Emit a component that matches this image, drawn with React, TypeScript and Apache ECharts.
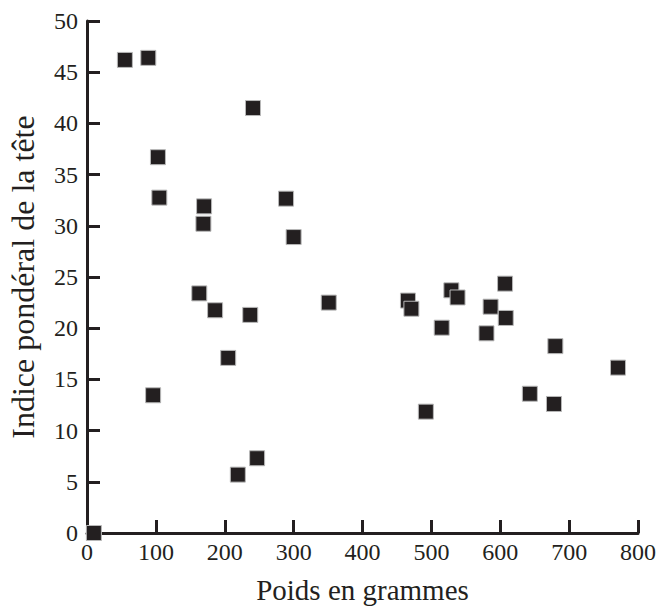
import React, { useEffect, useRef } from "react";
import * as echarts from "echarts";

const weights = [55, 89, 241, 103, 105, 170, 169, 289, 300, 163, 186, 237, 205, 96, 219, 247, 10, 351, 466, 471, 529, 538, 607, 586, 608, 515, 580, 680, 771, 643, 678, 492];
const indices = [46.2, 46.4, 41.5, 36.7, 32.75, 31.9, 30.2, 32.65, 28.9, 23.4, 21.75, 21.3, 17.1, 13.45, 5.7, 7.3, 0, 22.5, 22.7, 21.9, 23.7, 23.0, 24.35, 22.1, 21.0, 20.05, 19.5, 18.25, 16.15, 13.6, 12.6, 11.85];

const xTitle = "Poids en grammes";
const yTitle = "Indice pondéral de la tête";

export default function App() {
  const ref = useRef<HTMLDivElement>(null);
  useEffect(() => {
    if (!ref.current) return;
    const chart = echarts.init(ref.current, null, { renderer: "svg" });
    const ink = "#231f20";
    const font = "Liberation Serif";
    chart.setOption({
      animation: false,
      grid: { left: 87, right: 20, top: 21, bottom: 75, outerBoundsMode: "none", containLabel: false },
      xAxis: {
        type: "value",
        min: 0,
        max: 800,
        interval: 100,
        name: xTitle,
        nameLocation: "middle",
        nameGap: 42,
        nameTextStyle: { fontFamily: font, fontSize: 29, color: ink },
        axisLine: { show: true, lineStyle: { color: ink, width: 3 } },
        axisTick: { show: true, inside: true, length: 13, lineStyle: { color: ink, width: 3 } },
        axisLabel: { fontFamily: font, fontSize: 24, color: ink, margin: 7 },
        splitLine: { show: false },
      },
      yAxis: {
        type: "value",
        min: 0,
        max: 50,
        interval: 5,
        name: yTitle,
        nameLocation: "middle",
        nameGap: 48,
        nameTextStyle: { fontFamily: font, fontSize: 32, color: ink },
        axisLine: { show: true, lineStyle: { color: ink, width: 3 } },
        axisTick: { show: true, inside: true, length: 13, lineStyle: { color: ink, width: 3 } },
        axisLabel: { fontFamily: font, fontSize: 24, color: ink, margin: 9 },
        splitLine: { show: false },
      },
      series: [
        {
          type: "scatter",
          clip: false,
          symbol: "rect",
          symbolSize: 15,
          itemStyle: { color: ink, borderColor: "#b8b8b8", borderWidth: 1, opacity: 1 },
          data: weights.map((w, i) => [w, indices[i]]),
          z: 5,
        },
      ],
    });
    return () => chart.dispose();
  }, []);
  return <div ref={ref} style={{ position: "fixed", left: 0, top: 0, width: 658, height: 608, background: "#fff" }} />;
}
